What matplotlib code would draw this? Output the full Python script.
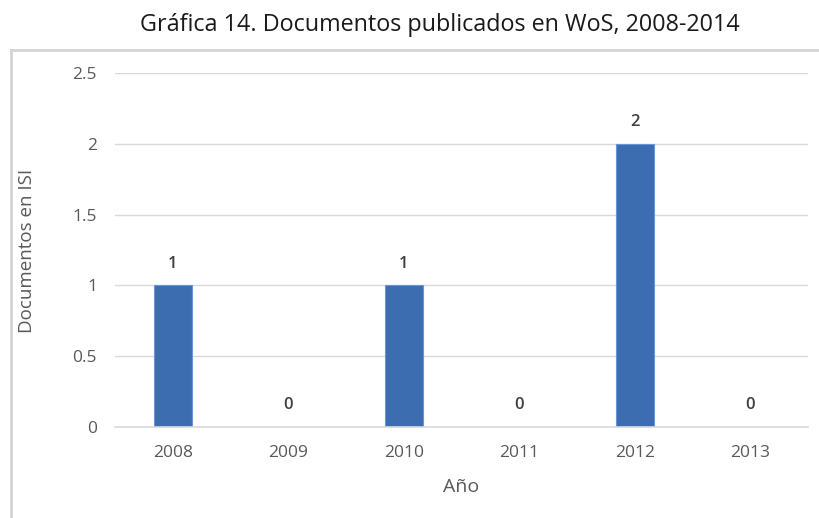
import matplotlib
matplotlib.use("Agg")
from matplotlib import pyplot as plt
from matplotlib.lines import Line2D
import numpy as np

# chart data
years = ["2008", "2009", "2010", "2011", "2012", "2013"]
documentos = [1, 0, 1, 0, 2, 0]
y_ticks = [0, 0.5, 1, 1.5, 2, 2.5]
y_tick_labels = ["0", "0.5", "1", "1.5", "2", "2.5"]

title = "Gráfica 14. Documentos publicados en WoS, 2008-2014"
x_label = "Año"
y_label = "Documentos en ISI"

plt.rcParams["font.family"] = ["Open Sans", "DejaVu Sans"]

fig = plt.figure(figsize=(8.19, 5.18), dpi=100)

# outer light-gray frame: only top and left show, the rest runs off the image
fx, fy = 11 / 819, 1 - 50 / 518
fig.add_artist(Line2D([fx, 1.0], [fy, fy], transform=fig.transFigure,
                      color="#D4D4D4", linewidth=2))
fig.add_artist(Line2D([fx, fx], [0.0, fy], transform=fig.transFigure,
                      color="#D4D4D4", linewidth=2))

fig.text(440 / 819, 1 - 25 / 518, title, ha="center", va="center",
         fontsize=16.8, color="#1a1a1a")

ax = fig.add_axes([115 / 819, 1 - 427 / 518, (808 - 115) / 819,
                   (427 - 73) / 518])

x = np.arange(len(years))
ax.bar(x, documentos, width=0.325, color="#3C6DB1",
       edgecolor="#6A96D6", linewidth=0.8, zorder=3)

for xi, v in zip(x, documentos):
    ax.annotate(str(v), (xi, v), xytext=(0, 10), textcoords="offset points",
                ha="center", va="bottom", fontsize=12, fontweight="semibold",
                color="#404040")

ax.set_xlim(-0.5, len(years) - 0.5)
ax.set_ylim(0, 2.5)
ax.set_xticks(x)
ax.set_xticklabels(years)
ax.set_yticks(y_ticks)
ax.set_yticklabels(y_tick_labels)
ax.tick_params(axis="both", length=0, labelsize=12.5, labelcolor="#595959")
ax.tick_params(axis="x", pad=13)
ax.tick_params(axis="y", pad=13)
ax.grid(axis="y", color="#D9D9D9", linewidth=1, zorder=0)
ax.axhline(0, color="#D9D9D9", linewidth=1.2, zorder=4, clip_on=False)
for s in ax.spines.values():
    s.set_visible(False)

fig.text(461 / 819, 1 - 487 / 518, x_label, ha="center", va="center",
         fontsize=14, color="#595959")
fig.text(27 / 819, 1 - 251 / 518, y_label, ha="center", va="center",
         rotation=90, fontsize=13.5, color="#595959")

fig.savefig("out.png", dpi=100)
